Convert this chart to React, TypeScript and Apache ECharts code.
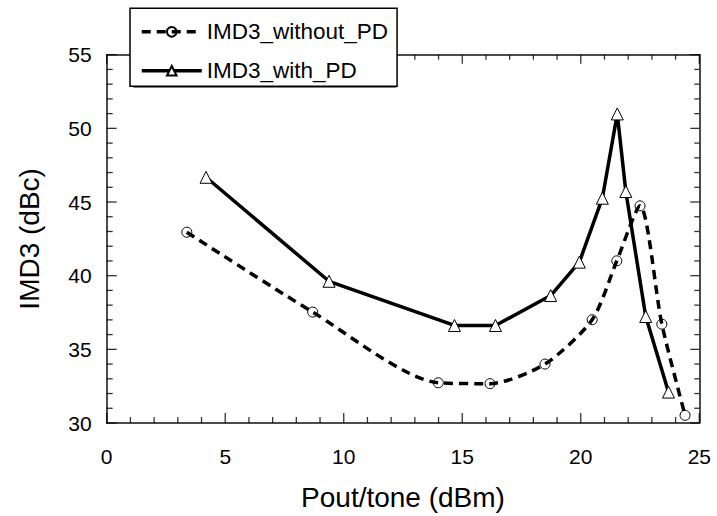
import React, { useEffect, useRef } from "react";
import * as echarts from "echarts";

const seriesNames = ["IMD3_without_PD", "IMD3_with_PD"];
const xWithout = [3.38, 8.69, 13.99, 16.17, 18.49, 20.48, 21.52, 22.5, 23.42, 24.4];
const yWithout = [42.95, 37.53, 32.73, 32.67, 34.0, 37.01, 41.01, 44.74, 36.71, 30.52];
const xWith = [4.19, 9.38, 14.67, 16.4, 18.73, 19.94, 20.91, 21.54, 21.9, 22.74, 23.7];
const yWith = [46.68, 39.62, 36.62, 36.62, 38.65, 40.92, 45.26, 50.98, 45.71, 37.23, 32.1];
const xRange = [0, 25];
const yRange = [30, 55];
const majorStep = 5;
const minorStep = 1;
const xTitle = "Pout/tone (dBm)";
const yTitle = "IMD3 (dBc)";

const FONT = "'Liberation Sans', Arial, Helvetica, sans-serif";

const tickValues = (range: number[], major: boolean) => {
  const out: number[] = [];
  for (let v = range[0]; v <= range[1] + 1e-9; v += minorStep) {
    const isMajor = Math.abs(v / majorStep - Math.round(v / majorStep)) < 1e-9;
    if (isMajor === major) out.push(v);
  }
  return out;
};

export default function App() {
  const ref = useRef<HTMLDivElement>(null);
  useEffect(() => {
    if (!ref.current) return;
    const chart = echarts.init(ref.current, null, { renderer: "svg" });
    const axisCommon = (extra: any) => ({
      type: "value",
      axisLine: { show: true, onZero: false, lineStyle: { color: "#111", width: 1.5 } },
      axisTick: { show: false },
      minorTick: { show: false },
      splitLine: { show: false },
      minorSplitLine: { show: false },
      ...extra,
    });
    const pairs = (xs: number[], ys: number[]) => xs.map((x, i) => [x, ys[i]]);

    // tick marks as thin rect symbols, placed by the chart's own scales
    const tickSeries = (data: number[][], size: number[], offset: number[]) => ({
      type: "scatter",
      silent: true,
      clip: false,
      z: 1,
      symbol: "rect",
      symbolSize: size,
      symbolOffset: offset,
      itemStyle: { color: "#000", borderWidth: 0 },
      emphasis: { disabled: true },
      data,
    });
    const ticks: any[] = [];
    for (const major of [true, false]) {
      const xs = tickValues(xRange, major);
      const ys = tickValues(yRange, major);
      const lb = major ? 10 : 6;
      const lt = major ? 9 : 5;
      ticks.push(tickSeries(xs.map((v) => [v, yRange[0]]), [1.3, lb], [0, -lb / 2]));
      ticks.push(tickSeries(xs.map((v) => [v, yRange[1]]), [1.3, lt], [0, lt / 2]));
      ticks.push(tickSeries(ys.map((v) => [xRange[0], v]), [lb, 1.3], [lb / 2, 0]));
      ticks.push(tickSeries(ys.map((v) => [xRange[1], v]), [lt, 1.3], [-lt / 2, 0]));
    }

    chart.setOption({
      animation: false,
      backgroundColor: "#fff",
      textStyle: { fontFamily: FONT },
      grid: { left: 106.7, right: 17.7, top: 54.7, bottom: 92.7, show: false },
      xAxis: [
        axisCommon({
          min: xRange[0],
          max: xRange[1],
          interval: majorStep,
          position: "bottom",
          name: xTitle,
          nameLocation: "middle",
          nameGap: 60,
          nameTextStyle: { fontSize: 28, color: "#000", fontFamily: FONT },
          axisLabel: { fontSize: 21, color: "#000", margin: 23, fontFamily: FONT },
        }),
        axisCommon({
          min: xRange[0],
          max: xRange[1],
          interval: majorStep,
          position: "top",
          axisLabel: { show: false },
        }),
      ],
      yAxis: [
        axisCommon({
          min: yRange[0],
          max: yRange[1],
          interval: majorStep,
          position: "left",
          name: yTitle,
          nameLocation: "middle",
          nameGap: 63,
          nameTextStyle: { fontSize: 28, color: "#000", fontFamily: FONT },
          axisLabel: { fontSize: 21, color: "#000", margin: 15, fontFamily: FONT },
        }),
        axisCommon({
          min: yRange[0],
          max: yRange[1],
          interval: majorStep,
          position: "right",
          axisLabel: { show: false },
        }),
      ],
      legend: {
        orient: "vertical",
        left: 130,
        top: 8.3,
        z: 10,
        backgroundColor: "#fff",
        borderColor: "#000",
        borderWidth: 1.5,
        padding: [12, 9, 4, 10],
        itemWidth: 60,
        itemHeight: 12,
        itemGap: 16,
        lineStyle: { width: 3.5 },
        textStyle: { fontSize: 22.5, color: "#000", fontFamily: FONT },
        data: seriesNames,
      },
      graphic: [
        {
          type: "rect",
          z: 9,
          left: 133.3,
          top: 11.6,
          shape: { width: 263, height: 76 },
          style: { fill: "#000" },
        },
      ],
      series: [
        {
          name: seriesNames[0],
          type: "line",
          data: pairs(xWithout, yWithout),
          smooth: 0.25,
          symbol: "circle",
          symbolSize: 10,
          z: 3,
          lineStyle: { color: "#000", width: 3.5, type: [9, 6] },
          itemStyle: { color: "rgba(255,255,255,0)", borderColor: "#000", borderWidth: 1 },
        },
        {
          name: seriesNames[1],
          type: "line",
          data: pairs(xWith, yWith),
          symbol: "triangle",
          symbolSize: 12,
          z: 3,
          lineStyle: { color: "#000", width: 3.5 },
          itemStyle: { color: "#fff", borderColor: "#000", borderWidth: 1 },
        },
        ...ticks,
      ],
    });
    return () => chart.dispose();
  }, []);
  return <div ref={ref} style={{ width: 717, height: 516, position: "absolute", left: 0, top: 0 }} />;
}
